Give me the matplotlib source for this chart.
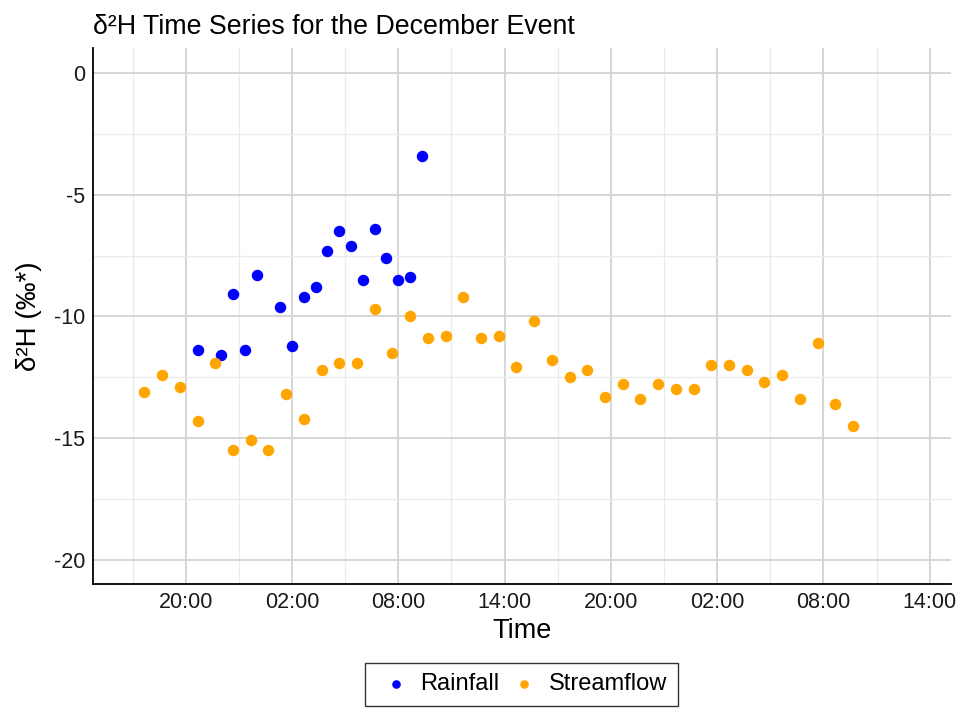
import pandas as pd
import matplotlib
matplotlib.use("Agg")
import matplotlib.pyplot as plt
import matplotlib.dates as mdates

plt.rcParams['font.family'] = ['Liberation Sans', 'DejaVu Sans']
plt.rcParams['axes.unicode_minus'] = False

#%% Data
rain_time = ['2021-12-13 20:40', '2021-12-13 22:00', '2021-12-13 22:40', '2021-12-13 23:20',
             '2021-12-14 00:00', '2021-12-14 01:20', '2021-12-14 02:00', '2021-12-14 02:40',
             '2021-12-14 03:20', '2021-12-14 04:00', '2021-12-14 04:40', '2021-12-14 05:20',
             '2021-12-14 06:00', '2021-12-14 06:40', '2021-12-14 07:20', '2021-12-14 08:00',
             '2021-12-14 08:40', '2021-12-14 09:20']
rain_d2h = [-11.4, -11.6, -9.1, -11.4, -8.3, -9.6, -11.2, -9.2, -8.8, -7.3, -6.5, -7.1,
            -8.5, -6.4, -7.6, -8.5, -8.4, -3.4]

# streamflow sampled hourly from 17:40
stream_start = '2021-12-13 17:40'
stream_d2h = [-13.1, -12.4, -12.9, -14.3, -11.9, -15.5, -15.1, -15.5, -13.2, -14.2,
              -12.2, -11.9, -11.9, -9.7, -11.5, -10.0, -10.9, -10.8, -9.2, -10.9,
              -10.8, -12.1, -10.2, -11.8, -12.5, -12.2, -13.3, -12.8, -13.4, -12.8,
              -13.0, -13.0, -12.0, -12.0, -12.2, -12.7, -12.4, -13.4, -11.1, -13.6, -14.5]

rain_t = pd.to_datetime(rain_time)
stream_t = pd.date_range(stream_start, periods=len(stream_d2h), freq='h')

#%% Plot
fig = plt.figure(figsize=(9.63, 7.09), dpi=100)
ax = fig.add_axes([0.0969, 0.1763, 0.8903, 0.756])

ax.scatter(rain_t, rain_d2h, s=68, color='#0000FF', label='Rainfall', zorder=3, linewidths=0)
ax.scatter(stream_t, stream_d2h, s=68, color='#FFA500', label='Streamflow', zorder=3, linewidths=0)

ax.set_xlim(pd.Timestamp('2021-12-13 14:47'), pd.Timestamp('2021-12-15 15:11'))
ax.set_ylim(-21, 1.03)

ax.xaxis.set_major_locator(mdates.HourLocator(byhour=[2, 8, 14, 20]))
ax.xaxis.set_minor_locator(mdates.HourLocator(byhour=[5, 11, 17, 23]))
ax.xaxis.set_major_formatter(mdates.DateFormatter('%H:%M'))
ax.set_yticks([0, -5, -10, -15, -20])
ax.set_yticks([-2.5, -7.5, -12.5, -17.5], minor=True)

ax.grid(which='major', color='#d3d3d3', lw=1.3)
ax.grid(which='minor', color='#ebebeb', lw=1.0)
ax.set_axisbelow(True)

for s in ['top', 'right']:
    ax.spines[s].set_visible(False)
for s in ['left', 'bottom']:
    ax.spines[s].set_color('black')
    ax.spines[s].set_linewidth(1.3)

ax.tick_params(which='both', length=0, labelsize=15.5, labelcolor='#1a1a1a', pad=6)

ax.set_xlabel('Time', fontsize=19.5, labelpad=3)
ax.set_ylabel('δ²H (‰*)', fontsize=20, labelpad=8)
ax.set_title('δ²H Time Series for the December Event', fontsize=19.3, loc='left', pad=10)

leg = fig.legend(loc='center', bbox_to_anchor=(0.5415, 0.035), ncol=2, fontsize=17,
                 frameon=True, fancybox=False, edgecolor='black', handlelength=1.7,
                 handletextpad=0.2, columnspacing=0.2, borderpad=0.45, markerscale=0.75)
leg.get_frame().set_linewidth(1.0)

fig.savefig('out.png', dpi=100)
